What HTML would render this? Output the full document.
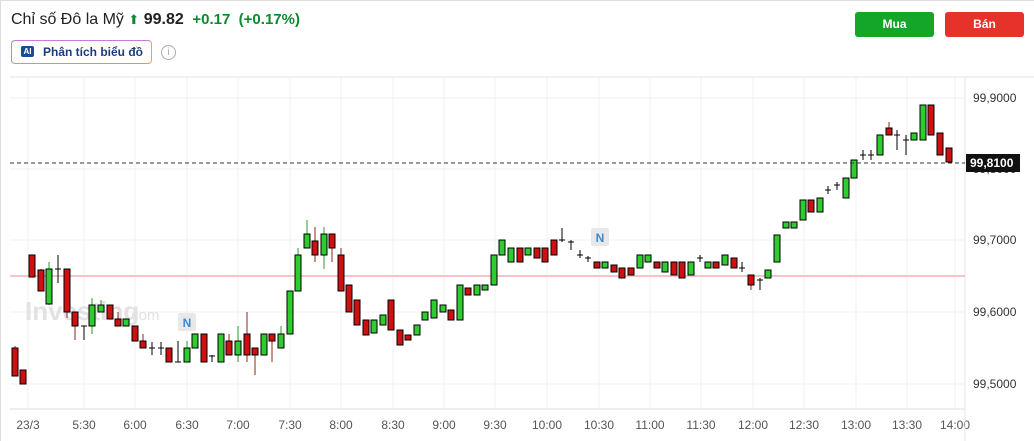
<!DOCTYPE html>
<html><head><meta charset="utf-8"><style>
body{margin:0;width:1034px;height:441px;background:#fff;font-family:"Liberation Sans",sans-serif;overflow:hidden;position:relative}
.t{position:absolute;white-space:nowrap}
</style></head><body>
<div style="position:absolute;left:0;top:0;width:1034px;height:441px;border-left:1px solid #ddd;border-top:1px solid #ddd;box-sizing:border-box"></div>
<div class="t" style="left:11px;top:11px;font-size:16px;color:#222">Chỉ số Đô la Mỹ <span style="color:#0a8a2e;font-size:13px">&#11014;</span><b style="font-size:16px"> 99.82</b> <b style="color:#0a8a2e;font-size:15px">&nbsp;+0.17 &nbsp;(+0.17%)</b></div>
<div style="position:absolute;left:11px;top:40px;width:141px;height:24px;border:1px solid #c87ad8;border-right-color:#f0a050;border-bottom-color:#e89060;border-radius:4px;box-sizing:border-box"></div>
<div style="position:absolute;left:21px;top:46px;width:13px;height:11px;background:#1a4a9a;border-radius:2px;color:#fff;font-size:8px;font-weight:bold;text-align:center;line-height:11px">AI</div>
<div class="t" style="left:43px;top:45px;font-size:12px;font-weight:bold;color:#1d3d7a">Phân tích biểu đồ</div>
<div style="position:absolute;left:161px;top:45px;width:13px;height:13px;border:1px solid #aaa;border-radius:50%;color:#aaa;font-size:10px;text-align:center;line-height:13px">i</div>
<div style="position:absolute;left:855px;top:12px;width:79px;height:25px;background:#13a628;border-radius:3px;color:#fff;font-weight:bold;font-size:12px;text-align:center;line-height:25px">Mua</div>
<div style="position:absolute;left:945px;top:12px;width:79px;height:25px;background:#e6322b;border-radius:3px;color:#fff;font-weight:bold;font-size:12px;text-align:center;line-height:25px">Bán</div>
<svg id="s" width="1034" height="441" style="position:absolute;left:0;top:0" font-family="Liberation Sans, sans-serif"></svg>
<script>
var s=document.getElementById('s'),h='';
h+='<line x1="10" y1="77" x2="1034" y2="77" stroke="#e6e6e6"/>';
[98,169,240,312,384].forEach(function(y){h+='<line x1="10" y1="'+y+'" x2="965" y2="'+y+'" stroke="#f0f0f0"/>';});
var xt=[[28,'23/3'],[84,'5:30'],[135,'6:00'],[187,'6:30'],[238,'7:00'],[290,'7:30'],[341,'8:00'],[393,'8:30'],[444,'9:00'],[495,'9:30'],[547,'10:00'],[599,'10:30'],[650,'11:00'],[701,'11:30'],[753,'12:00'],[804,'12:30'],[856,'13:00'],[907,'13:30'],[955,'14:00']];
xt.forEach(function(a){h+='<line x1="'+a[0]+'" y1="77" x2="'+a[0]+'" y2="409" stroke="#f0f0f0"/><text x="'+a[0]+'" y="429" font-size="12" fill="#555" text-anchor="middle">'+a[1]+'</text>';});
h+='<line x1="10" y1="409" x2="965" y2="409" stroke="#ddd"/><line x1="965" y1="77" x2="965" y2="441" stroke="#e6e6e6"/>';
[[98,'99,9000'],[240,'99,7000'],[312,'99,6000'],[384,'99,5000']].forEach(function(a){h+='<text x="973" y="'+(a[0]+4)+'" font-size="12" fill="#333">'+a[1]+'</text>';});
h+='<text x="973" y="173" font-size="12" fill="#333">99,8000</text>';
h+='<text x="25" y="320" font-size="26" font-weight="bold" fill="#e2e2e2">Investing</text><text x="127" y="320" font-size="15" fill="#e2e2e2">.com</text>';
h+='<line x1="10" y1="276" x2="965" y2="276" stroke="#f6c4c4" stroke-width="2"/>';
var c=[[15,'r',348,376,346,376],[23,'r',370,384],[32,'r',255,277],[41,'r',270,291,269,291],[49,'g',269,304,262,305],[58,'d',269,269,255,283],[67,'r',269,312,269,318],[75,'r',312,326,312,340],[84,'d',326,326,326,340],[92,'g',305,326,298,334],[101,'g',305,312,300,312],[110,'r',305,319],[118,'r',319,326,312,326],[126,'g',319,326],[135,'r',326,341],[143,'r',341,348,334,348],[152,'d',348,348,342,355],[161,'d',348,348,342,355],[169,'r',348,362],[178,'d',362,362,341,362],[187,'g',348,362,341,362],[195,'g',334,348],[204,'r',334,362],[212,'d',356,356,355,362],[221,'g',334,362],[229,'r',341,355,334,355],[238,'g',341,355,326,362],[247,'r',334,355,312,362],[255,'r',348,355,348,375],[264,'g',334,355],[272,'r',334,341,334,362],[281,'g',334,348,326,348],[290,'g',291,334],[298,'g',255,291,248,291],[307,'g',234,248,220,248],[315,'r',241,255,227,262],[324,'g',234,255,227,269],[332,'r',234,248,234,262],[341,'r',255,291,248,291],[349,'r',285,312],[357,'r',300,325],[366,'r',320,335],[374,'g',320,333],[383,'g',315,325],[391,'r',300,330],[400,'r',330,345],[408,'r',335,340],[417,'g',325,335],[425,'g',312,320],[434,'g',300,318],[443,'g',305,312],[451,'r',310,320],[460,'g',285,320],[468,'r',288,295],[477,'g',285,295],[485,'g',285,290],[494,'g',255,285],[502,'g',240,255],[511,'g',248,262],[520,'r',248,262],[528,'g',248,255],[537,'r',248,258],[545,'r',248,262],[554,'r',240,255],[562,'d',240,240,228,242],[571,'d',242,242,240,250],[580,'d',255,255,250,258],[588,'d',258,258,256,262],[597,'r',262,268],[605,'g',262,268],[614,'r',265,272],[622,'r',268,278],[631,'r',268,275],[640,'g',255,268],[648,'g',255,262],[657,'r',262,268],[665,'g',262,272],[674,'r',262,275],[682,'r',262,278],[691,'g',262,275],[700,'d',258,258,255,262],[708,'g',262,268],[716,'r',262,268],[725,'g',255,265],[734,'r',258,268],[742,'d',268,268,262,272],[751,'r',275,285,275,290],[760,'d',280,280,278,290],[768,'g',270,278],[777,'g',235,262],[786,'g',222,228],[794,'g',222,228],[803,'g',200,220],[811,'r',200,212],[820,'g',198,212],[828,'d',190,190,186,194],[837,'d',185,185,182,190],[846,'g',178,198],[854,'g',160,178],[863,'d',155,155,150,160],[871,'d',155,155,150,160],[880,'g',135,155],[889,'r',128,135,122,135],[897,'d',135,135,130,150],[906,'d',140,140,135,155],[914,'g',133,140],[923,'g',105,140],[931,'r',105,135],[940,'r',133,155],[949,'r',148,162]];
c.forEach(function(a){var x=a[0],t=a[1],o=a[2],e=a[3],hi=a[4]||o,lo=a[5]||e;var wc=t=='g'?'#2a9a2a':t=='r'?'#8a2a1a':'#000';
h+='<line x1="'+x+'" y1="'+hi+'" x2="'+x+'" y2="'+lo+'" stroke="'+wc+'"/>';
if(t=='d'){h+='<line x1="'+(x-3)+'" y1="'+o+'" x2="'+(x+3)+'" y2="'+o+'" stroke="#000"/>';}
else h+='<rect x="'+(x-3)+'" y="'+o+'" width="6" height="'+Math.max(e-o,2)+'" fill="'+(t=='g'?'#2ecc2e':'#d01010')+'" stroke="#000" stroke-width="1"/>';});
h+='<line x1="10" y1="163" x2="965" y2="163" stroke="#333" stroke-dasharray="4,3"/>';
h+='<rect x="966" y="154" width="54" height="18" fill="#111"/><text x="970" y="167" font-size="12" font-weight="bold" fill="#fff">99,8100</text>';
[[187,322],[600,237]].forEach(function(p){h+='<rect x="'+(p[0]-9)+'" y="'+(p[1]-9)+'" width="18" height="18" fill="#e8e8e8" rx="2"/><text x="'+p[0]+'" y="'+(p[1]+5)+'" font-size="12" font-weight="bold" fill="#3a8ad0" text-anchor="middle">N</text>';});
s.innerHTML=h;
</script>
</body></html>
